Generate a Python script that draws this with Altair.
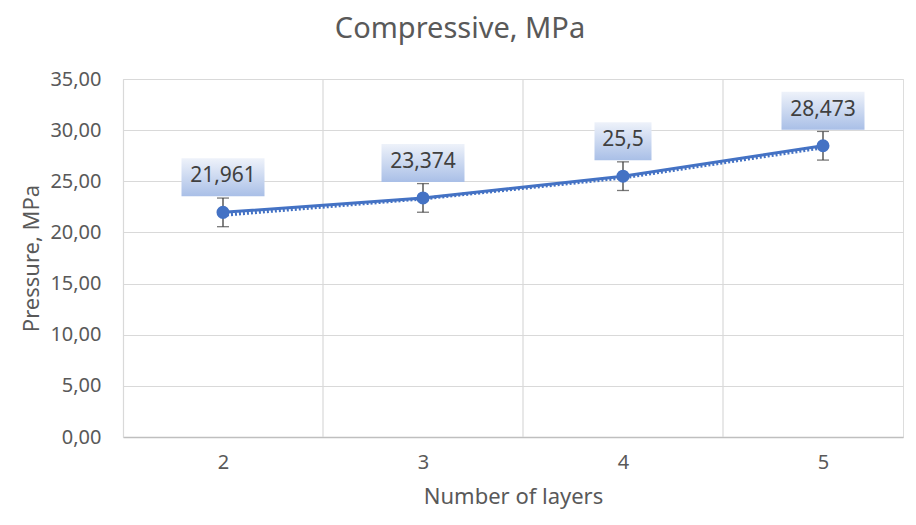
import altair as alt
import pandas as pd

# ---- data ----
layers = [2, 3, 4, 5]
pressure = [21.961, 23.374, 25.5, 28.473]
error = [1.4, 1.4, 1.4, 1.4]
trend = [21.7, 23.3, 25.35, 28.3]
y_ticks = [0, 5, 10, 15, 20, 25, 30, 35]
grid_x = [2.5, 3.5, 4.5]

df = pd.DataFrame({"layers": layers, "pressure": pressure, "err": error, "trend": trend})
df["lo"] = df["pressure"] - df["err"]
df["hi"] = df["pressure"] + df["err"]
df["label"] = [f"{v:g}".replace(".", ",") for v in pressure]
df["nchar"] = [len(s) for s in df["label"]]
grid_df = pd.DataFrame({"gx": grid_x})

FONT = "Noto Sans"
BLUE = "#4472c4"
GRID = "#d9d9d9"
TXT = "#595959"

xscale = alt.Scale(domain=[1.5, 5.4], nice=False, zero=False)
yscale = alt.Scale(domain=[0, 35], nice=False)

X = alt.X("layers:Q", scale=xscale,
          axis=alt.Axis(title="Number of layers", values=layers, format="d",
                        grid=False, ticks=False, domain=True, domainColor="#bfbfbf",
                        domainWidth=1.5, labelPadding=15, titlePadding=14,
                        labelFontSize=20, titleFontSize=22, labelColor=TXT,
                        titleColor=TXT, labelFont=FONT, titleFont=FONT,
                        titleFontWeight="normal"))
Y = alt.Y("pressure:Q", scale=yscale,
          axis=alt.Axis(title="Pressure, MPa", values=y_ticks,
                        labelExpr="replace(format(datum.value, '.2f'), '.', ',')",
                        grid=True, gridColor=GRID, gridWidth=1.2, ticks=False,
                        domain=True, domainColor=GRID, domainWidth=1.2,
                        labelPadding=22, titlePadding=6, labelFontSize=20,
                        titleFontSize=22, labelColor=TXT, titleColor=TXT,
                        labelFont=FONT, titleFont=FONT, titleFontWeight="normal"))

base = alt.Chart(df)

# vertical gridlines at category boundaries
grid_layer = alt.Chart(grid_df).mark_rule(color=GRID, strokeWidth=1.2).encode(
    x=alt.X("gx:Q", scale=xscale),
    y=alt.datum(0, scale=yscale), y2=alt.datum(35),
)

trend_line = base.mark_line(color=BLUE, strokeWidth=3.5, strokeDash=[2, 2]).encode(
    x=X, y=alt.Y("trend:Q", scale=yscale))
main_line = base.mark_line(color=BLUE, strokeWidth=3).encode(x=X, y=Y)

err_rule = base.mark_rule(color="#404040", strokeWidth=1.3).encode(
    x="layers:Q", y=alt.Y("lo:Q", scale=yscale), y2="hi:Q")
cap_lo = base.mark_tick(color="#404040", orient="horizontal", size=12, thickness=1.3).encode(
    x="layers:Q", y=alt.Y("lo:Q", scale=yscale))
cap_hi = base.mark_tick(color="#404040", orient="horizontal", size=12, thickness=1.3).encode(
    x="layers:Q", y=alt.Y("hi:Q", scale=yscale))

points = base.mark_circle(size=170, color=BLUE, opacity=1).encode(x="layers:Q", y="pressure:Q")

grad = alt.Gradient(gradient="linear", x1=0, x2=0, y1=0, y2=1,
                    stops=[alt.GradientStop(color="#eef2fa", offset=0),
                           alt.GradientStop(color="#a9bfe7", offset=1)])

boxes = []
for n in sorted(set(df["nchar"])):
    w = 13 * n + 5
    boxes.append(
        base.transform_filter(alt.datum.nchar == n)
        .mark_rect(width=w, height=38, yOffset=-35, fill=grad)
        .encode(x="layers:Q", y="pressure:Q")
    )

labels = base.mark_text(dy=-36, fontSize=21, color="#404040", font=FONT).encode(
    x="layers:Q", y="pressure:Q", text="label:N")

chart = alt.layer(grid_layer, trend_line, main_line, err_rule, cap_lo, cap_hi,
                  points, *boxes, labels).properties(
    width=780, height=358,
    title=alt.TitleParams("Compressive, MPa", fontSize=29, color=TXT, font=FONT,
                          fontWeight="normal", dx=-53, offset=25),
    padding={"left": 115, "top": 71, "right": 5, "bottom": 80},
    autosize="none",
).configure_view(stroke=None).configure(background="white")

chart.save("out.html", embed_options={"renderer": "svg", "actions": False})
